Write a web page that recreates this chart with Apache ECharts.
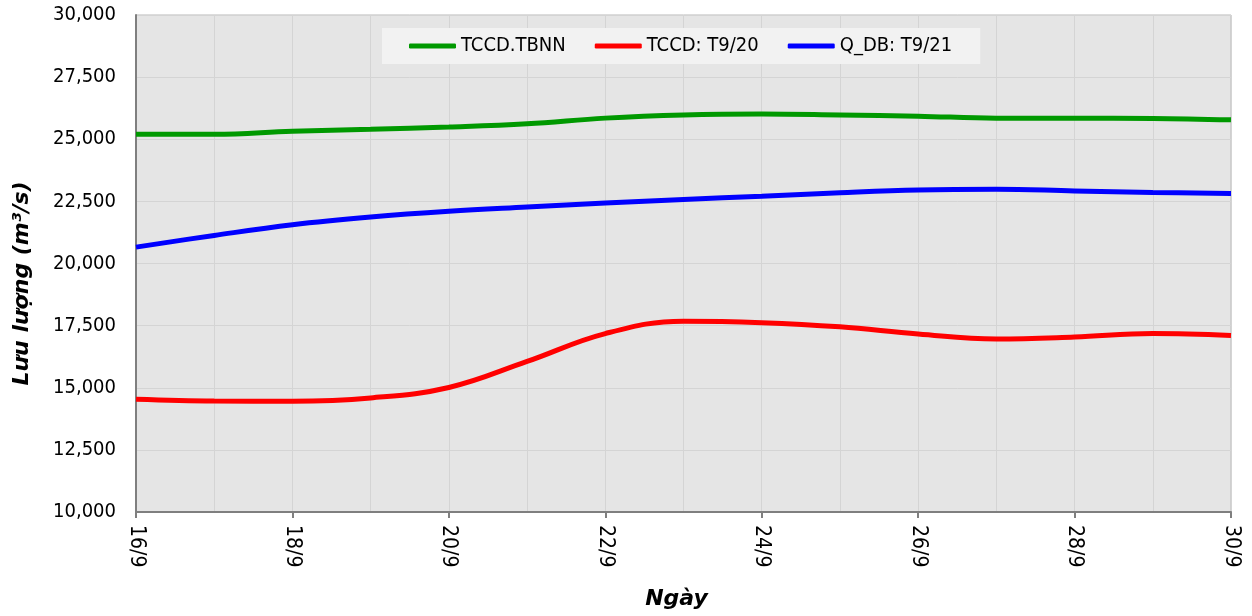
<!DOCTYPE html>
<html><head><meta charset="utf-8">
<script src="https://cdn.jsdelivr.net/npm/echarts@6/dist/echarts.min.js"></script>
<style>html,body{margin:0;padding:0;background:#fff}#c{width:1252px;height:616px}</style>
</head><body><div id="c"></div>
<script>
// Categories (days)
const days = ['16/9','17/9','18/9','19/9','20/9','21/9','22/9','23/9','24/9','25/9','26/9','27/9','28/9','29/9','30/9'];
// Series values (m3/s)
const tccdTbnn = [25200, 25200, 25320, 25400, 25490, 25620, 25850, 25980, 26020, 25980, 25930, 25850, 25850, 25840, 25780];
const tccdT920 = [14540, 14470, 14460, 14590, 15010, 16060, 17180, 17680, 17620, 17450, 17160, 16960, 17040, 17180, 17100];
const qdbT921  = [20660, 21130, 21560, 21870, 22100, 22270, 22430, 22580, 22710, 22850, 22960, 22990, 22920, 22860, 22820];
const seriesNames = ['TCCD.TBNN', 'TCCD: T9/20', 'Q_DB: T9/21'];
const yMin = 10000, yMax = 30000, yStep = 2500;
const yAxisTitle = 'Lưu lượng (m³/s)';
const xAxisTitle = 'Ngày';

const FONT = '"DejaVu Sans Condensed", "DejaVu Sans", sans-serif';
const TFONT = '"DejaVu Sans", sans-serif';
const chart = echarts.init(document.getElementById('c'), null, {renderer: 'canvas'});
const colors = ['#009900', '#ff0000', '#0000ff'];
const data = [tccdTbnn, tccdT920, qdbT921];

chart.setOption({
  backgroundColor: '#ffffff',
  animation: false,
  grid: {left: 136, right: 21, top: 15, bottom: 104, show: true, containLabel: false,
         outerBoundsMode: 'none',
         backgroundColor: '#e5e5e5', borderColor: '#b8b8b8', borderWidth: 1},
  legend: {
    left: 382, top: 28,
    backgroundColor: '#f2f2f2',
    padding: [8, 28, 8, 27],
    itemGap: 29,
    itemWidth: 47, itemHeight: 5,
    icon: 'roundRect',
    textStyle: {fontFamily: FONT, fontSize: 20, color: '#000'},
    data: seriesNames
  },
  xAxis: {
    type: 'category', data: days, boundaryGap: false,
    name: xAxisTitle, nameLocation: 'middle', nameGap: 76,
    nameTextStyle: {fontFamily: TFONT, fontSize: 22, fontWeight: 'bold', fontStyle: 'italic', color: '#000',
      padding: [0, 14, 0, 0]},
    axisLine: {lineStyle: {color: '#7f7f7f', width: 2}},
    axisTick: {show: true, interval: 1, length: 6, lineStyle: {color: '#7f7f7f', width: 2}},
    axisLabel: {interval: 1, rotate: -90, margin: 13, fontFamily: FONT, fontSize: 21, color: '#000'},
    splitLine: {show: true, interval: 0, lineStyle: {color: '#d4d4d4', width: 1}}
  },
  yAxis: {
    type: 'value', min: yMin, max: yMax, interval: yStep,
    name: yAxisTitle, nameLocation: 'middle', nameGap: 103, nameRotate: 90,
    nameTextStyle: {fontFamily: TFONT, fontSize: 22, fontWeight: 'bold', fontStyle: 'italic', color: '#000',
      padding: [0, 40, 0, 0]},
    axisLine: {show: true, lineStyle: {color: '#7f7f7f', width: 2}},
    axisTick: {show: false},
    axisLabel: {margin: 20, fontFamily: FONT, fontSize: 20, color: '#000',
      formatter: v => v.toLocaleString('en-US')},
    splitLine: {show: true, lineStyle: {color: '#d4d4d4', width: 1}}
  },
  series: seriesNames.map((n, i) => ({
    name: n, type: 'line', data: data[i], smooth: 0.4, symbol: 'none',
    color: colors[i],
    lineStyle: {color: colors[i], width: 5}
  }))
});
</script></body></html>
